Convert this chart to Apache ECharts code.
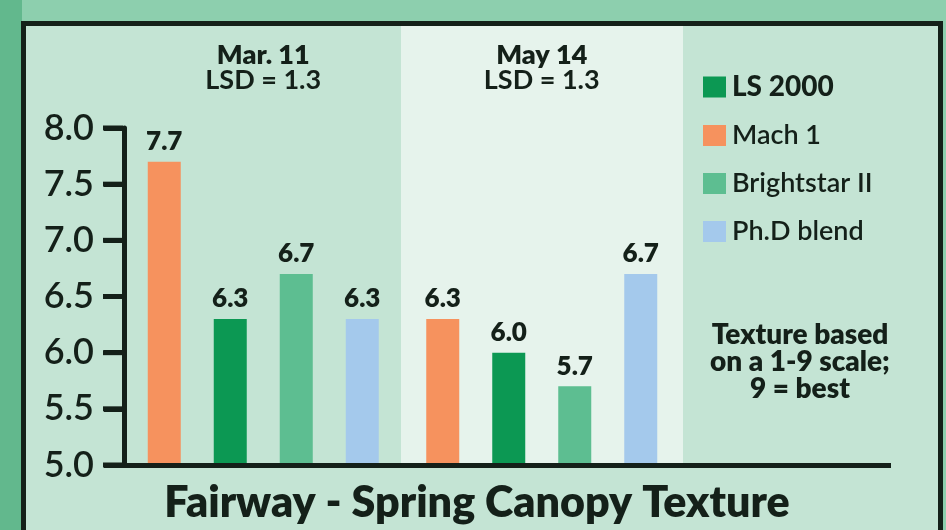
<!DOCTYPE html>
<html>
<head>
<meta charset="utf-8">
<script src="https://cdn.jsdelivr.net/npm/echarts@6/dist/echarts.min.js"></script>
<style>
  html, body { margin: 0; padding: 0; }
  #main { width: 946px; height: 530px; }
</style>
</head>
<body>
<div id="main"></div>
<script>
var dates = ['Mar. 11', 'May 14'];
var lsd = [1.3, 1.3];
var yTicks = [5.0, 5.5, 6.0, 6.5, 7.0, 7.5, 8.0];

var mach1 = [7.7, 6.3];
var ls2000 = [6.3, 6.0];
var brightstar = [6.7, 5.7];
var phd = [6.3, 6.7];

var legendOrder = ['LS 2000', 'Mach 1', 'Brightstar II', 'Ph.D blend'];

var chartDom = document.getElementById('main');
var myChart = echarts.init(chartDom);
var option;

var ink = '#142019';
var font = 'Lato';

function barSeries(name, data, color) {
  return {
    name: name,
    type: 'bar',
    data: data,
    barWidth: 33,
    barGap: '100%',
    itemStyle: { color: color },
    label: {
      show: true,
      position: 'top',
      distance: 7,
      fontFamily: font,
      fontWeight: 800,
      fontSize: 26,
      color: ink,
      formatter: function (p) { return p.value.toFixed(1); }
    }
  };
}

option = {
  // panel colour; the green frame and border are painted around it
  backgroundColor: '#c4e4d4',
  textStyle: { fontFamily: font },
  title: {
    text: 'Fairway - Spring Canopy Texture',
    left: 472,
    textAlign: 'center',
    top: 477,
    textStyle: { fontFamily: font, fontWeight: 800, fontSize: 43, color: ink }
  },
  legend: {
    orient: 'vertical',
    left: 703,
    top: 73,
    padding: 0,
    itemWidth: 23,
    itemHeight: 21,
    itemGap: 21,
    icon: 'rect',
    data: legendOrder,
    formatter: function (name) {
      return name === 'LS 2000' ? '{b|' + name + '}' : '{n|' + name + '}';
    },
    textStyle: {
      color: ink,
      padding: [0, 0, 0, 1],
      rich: {
        b: { fontFamily: font, fontSize: 28, fontWeight: 900, color: ink },
        n: { fontFamily: font, fontSize: 27, fontWeight: 600, color: ink }
      }
    }
  },
  grid: {
    left: 124,
    right: 265,
    top: 128,
    bottom: 65
  },
  xAxis: {
    type: 'category',
    position: 'top',
    data: dates,
    axisLine: { show: false },
    axisTick: { show: false },
    axisLabel: {
      margin: 35,
      formatter: function (v, i) {
        return '{d|' + v + '}\n{l|LSD = ' + lsd[i].toFixed(1) + '}';
      },
      rich: {
        d: { fontFamily: font, fontSize: 27, fontWeight: 800, color: ink, lineHeight: 25 },
        l: { fontFamily: font, fontSize: 27, fontWeight: 700, color: ink, lineHeight: 25 }
      }
    }
  },
  yAxis: {
    type: 'value',
    min: yTicks[0],
    max: yTicks[yTicks.length - 1],
    interval: 0.5,
    z: 5,
    axisLine: { show: true, lineStyle: { color: ink, width: 5 } },
    axisTick: { show: true, inside: false, length: 20, lineStyle: { color: ink, width: 5 } },
    splitLine: { show: false },
    axisLabel: {
      margin: 1,
      formatter: function (v) { return '{v|' + v.toFixed(1) + '}{g| }{t| }'; },
      rich: {
        v: { fontFamily: font, fontSize: 36, fontWeight: 600, color: ink },
        g: { width: 9 },
        t: { width: 20, height: 5, lineHeight: 5, backgroundColor: ink }
      }
    }
  },
  graphic: [
    { type: 'rect', z: -8, shape: { x: 401, y: 26, width: 282, height: 439 }, style: { fill: '#e6f3ec' } },
    { type: 'rect', z: 20, shape: { x: 0, y: 0, width: 946, height: 22 }, style: { fill: '#8dcfae' } },
    { type: 'rect', z: 20, shape: { x: 0, y: 0, width: 22, height: 530 }, style: { fill: '#62b88d' } },
    { type: 'rect', z: 20, shape: { x: 943, y: 0, width: 3, height: 530 }, style: { fill: '#8dcfae' } },
    { type: 'rect', z: 21, shape: { x: 21, y: 21, width: 922, height: 5 }, style: { fill: ink } },
    { type: 'rect', z: 21, shape: { x: 21, y: 21, width: 5, height: 509 }, style: { fill: ink } },
    { type: 'rect', z: 21, shape: { x: 938, y: 21, width: 5, height: 509 }, style: { fill: ink } },
    { type: 'rect', z: 21, shape: { x: 105, y: 463, width: 786, height: 5 }, style: { fill: ink } },
    {
      type: 'text', z: 21, x: 800, y: 321,
      style: {
        text: 'Texture based\non a 1-9 scale;\n9 = best',
        align: 'center',
        verticalAlign: 'top',
        font: '800 28px Lato',
        lineHeight: 27,
        fill: ink
      }
    }
  ],
  series: [
    barSeries('Mach 1', mach1, '#f6925e'),
    barSeries('LS 2000', ls2000, '#0c9853'),
    barSeries('Brightstar II', brightstar, '#5dbe91'),
    barSeries('Ph.D blend', phd, '#a4c9ec')
  ]
};

option && myChart.setOption(option);
</script>
</body>
</html>
